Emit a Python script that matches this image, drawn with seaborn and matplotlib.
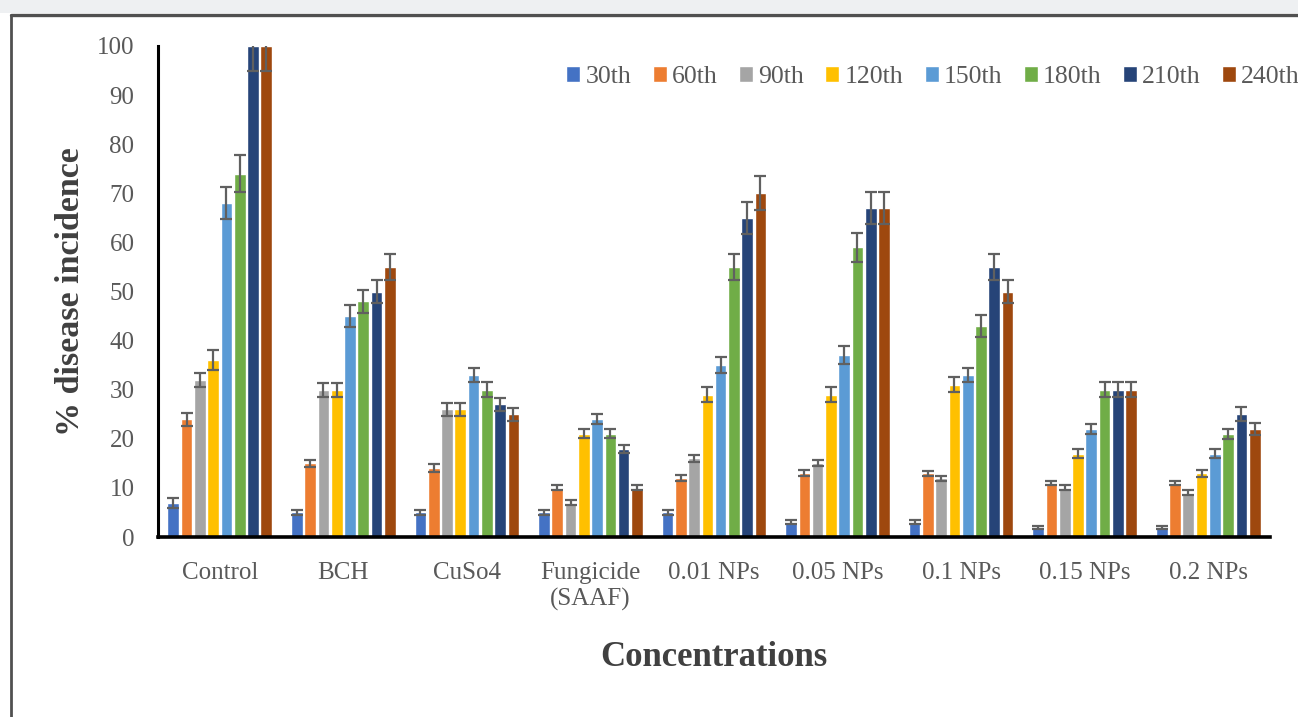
import numpy as np
import pandas as pd
import matplotlib
matplotlib.use("Agg")
import matplotlib.pyplot as plt
from matplotlib.patches import Rectangle
from matplotlib.lines import Line2D
import seaborn as sns

# categories and series
concentrations = ["Control", "BCH", "CuSo4", "Fungicide\n(SAAF)", "0.01 NPs",
                  "0.05 NPs", "0.1 NPs", "0.15 NPs", "0.2 NPs"]
days = ["30th", "60th", "90th", "120th", "150th", "180th", "210th", "240th"]

d30 = [7, 5, 5, 5, 5, 3, 3, 2, 2]
d60 = [24, 15, 14, 10, 12, 13, 13, 11, 11]
d90 = [32, 30, 26, 7, 16, 15, 12, 10, 9]
d120 = [36, 30, 26, 21, 29, 29, 31, 17, 13]
d150 = [68, 45, 33, 24, 35, 37, 33, 22, 17]
d180 = [74, 48, 30, 21, 55, 59, 43, 30, 21]
d210 = [100, 50, 27, 18, 65, 67, 55, 30, 25]
d240 = [100, 55, 25, 10, 70, 67, 50, 30, 22]

# error bar half-lengths
e30 = [1, 0.5, 0.5, 0.5, 0.5, 0.4, 0.4, 0.3, 0.3]
e60 = [1.3, 0.7, 0.8, 0.5, 0.6, 0.6, 0.5, 0.4, 0.4]
e90 = [1.5, 1.4, 1.3, 0.5, 0.7, 0.6, 0.5, 0.5, 0.5]
e120 = [2, 1.4, 1.3, 0.9, 1.5, 1.5, 1.5, 0.9, 0.7]
e150 = [3.3, 2.3, 1.5, 1, 1.7, 1.8, 1.5, 1, 0.9]
e180 = [3.8, 2.3, 1.5, 0.9, 2.7, 3, 2.2, 1.5, 1]
e210 = [5, 2.3, 1.4, 0.8, 3.3, 3.3, 2.7, 1.5, 1.4]
e240 = [5, 2.6, 1.3, 0.5, 3.5, 3.3, 2.3, 1.5, 1.2]

series = [d30, d60, d90, d120, d150, d180, d210, d240]
errors = [e30, e60, e90, e120, e150, e180, e210, e240]
colors = ["#4472C4", "#ED7D31", "#A5A5A5", "#FFC000",
          "#5B9BD5", "#70AD47", "#264478", "#9E480E"]

rows = []
for day, vals in zip(days, series):
    for conc, v in zip(concentrations, vals):
        rows.append({"Concentrations": conc, "Day": day, "value": v})
df = pd.DataFrame(rows)

sns.set_style("white")
plt.rcParams["font.family"] = ["Liberation Serif", "DejaVu Serif"]

W, H = 1298, 717
fig = plt.figure(figsize=(W / 100, H / 100), dpi=100)

# screenshot frame: gray strip on top and dark border
fig.add_artist(Rectangle((0, 1 - 13 / H), 1, 13 / H, transform=fig.transFigure,
                         facecolor="#eef0f2", edgecolor="none"))
fig.add_artist(Line2D([11 / W, 1], [1 - 15 / H, 1 - 15 / H], transform=fig.transFigure,
                      color="#505050", lw=2.4))
fig.add_artist(Line2D([11 / W, 11 / W], [0, 1 - 15 / H], transform=fig.transFigure,
                      color="#505050", lw=2.0))

ax = fig.add_axes([158 / W, 1 - 537 / H, (1270 - 158) / W, (537 - 46) / H])

sns.barplot(data=df, x="Concentrations", y="value", hue="Day",
            palette=colors, errorbar=None, width=0.86, gap=0.12,
            saturation=1, ax=ax)

for cont, err in zip(ax.containers, errors):
    xs = [b.get_x() + b.get_width() / 2 for b in cont]
    ys = [b.get_height() for b in cont]
    ax.errorbar(xs, ys, yerr=err, fmt="none", ecolor="#606060",
                elinewidth=1.6, capsize=4.2, capthick=1.6, zorder=5)

ax.set_ylim(0, 100)
ax.set_xlim(-0.5, len(concentrations) - 0.5)
ax.set_yticks(range(0, 101, 10))

for s in ["top", "right"]:
    ax.spines[s].set_visible(False)
ax.spines["left"].set_color("black")
ax.spines["left"].set_linewidth(2.2)
ax.spines["bottom"].set_color("black")
ax.spines["bottom"].set_linewidth(2.6)

ax.tick_params(axis="both", length=0, labelsize=18, labelcolor="#595959")
ax.tick_params(axis="y", pad=17)
ax.tick_params(axis="x", pad=18)

ax.set_xlabel("Concentrations", fontsize=25, fontweight="bold", color="#404040",
              labelpad=22)
ax.set_ylabel("% disease incidence", fontsize=24.5, fontweight="bold", color="#404040",
              labelpad=8)

leg = ax.legend(loc="upper left", bbox_to_anchor=(556 / W, 1 - 56 / H),
                bbox_transform=fig.transFigure, ncol=8, frameon=False,
                fontsize=18.5, handlelength=0.55, handleheight=0.55,
                handletextpad=0.2, columnspacing=0.83, borderaxespad=0)
for t in leg.get_texts():
    t.set_color("#595959")

fig.savefig("out.png", dpi=100)
